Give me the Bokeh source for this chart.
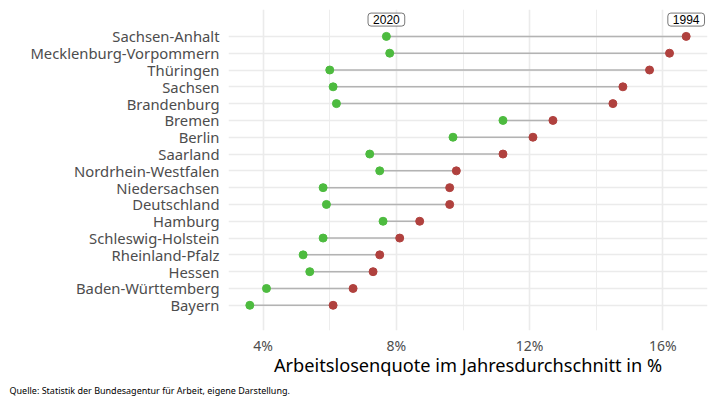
from bokeh.plotting import figure
from bokeh.models import Range1d, FixedTicker, Label, Title, ColumnDataSource
from bokeh.embed import file_html
from bokeh.resources import INLINE

regions = ["Sachsen-Anhalt", "Mecklenburg-Vorpommern", "Thüringen", "Sachsen", "Brandenburg",
           "Bremen", "Berlin", "Saarland", "Nordrhein-Westfalen", "Niedersachsen", "Deutschland",
           "Hamburg", "Schleswig-Holstein", "Rheinland-Pfalz", "Hessen", "Baden-Württemberg", "Bayern"]
rate_2020 = [7.7, 7.8, 6.0, 6.1, 6.2, 11.2, 9.7, 7.2, 7.5, 5.8, 5.9, 7.6, 5.8, 5.2, 5.4, 4.1, 3.6]
rate_1994 = [16.7, 16.2, 15.6, 14.8, 14.5, 12.7, 12.1, 11.2, 9.8, 9.6, 9.6, 8.7, 8.1, 7.5, 7.3, 6.7, 6.1]
x_ticks = [4, 8, 12, 16]
x_tick_labels = ["4%", "8%", "12%", "16%"]
year_labels = ["2020", "1994"]

FONT = "Noto Sans"
n = len(regions)
ypos = [n - i for i in range(n)]

src = ColumnDataSource(dict(y=ypos, a=rate_2020, b=rate_1994))

p = figure(width=716, height=402, output_backend="svg", toolbar_location=None,
           x_range=Range1d(2.96, 17.34), y_range=Range1d(-0.5, 18.6),
           min_border_left=228, min_border_right=9, min_border_top=9, min_border_bottom=72)
p.outline_line_color = None
p.background_fill_color = "white"

# grids
p.xgrid.ticker = FixedTicker(ticks=x_ticks, minor_ticks=[6, 10, 14])
p.xgrid.grid_line_color = "#ebebeb"
p.xgrid.grid_line_width = 1.6
p.xgrid.minor_grid_line_color = "#ebebeb"
p.xgrid.minor_grid_line_width = 0.9
p.ygrid.ticker = FixedTicker(ticks=ypos)
p.ygrid.grid_line_color = "#ebebeb"
p.ygrid.grid_line_width = 1.6

# axes
p.xaxis.ticker = FixedTicker(ticks=x_ticks)
p.xaxis.major_label_overrides = {t: l for t, l in zip(x_ticks, x_tick_labels)}
p.xaxis.axis_line_color = None
p.xaxis.major_tick_line_color = None
p.xaxis.minor_tick_line_color = None
p.xaxis.major_tick_out = 0
p.xaxis.major_tick_in = 0
p.xaxis.minor_tick_out = 0
p.xaxis.major_label_standoff = 5
p.xaxis.major_label_text_font = FONT
p.xaxis.major_label_text_font_size = "14px"
p.xaxis.major_label_text_color = "#4d4d4d"
p.xaxis.axis_label = "Arbeitslosenquote im Jahresdurchschnitt in %"
p.xaxis.axis_label_text_font = FONT
p.xaxis.axis_label_text_font_size = "18.2px"
p.xaxis.axis_label_text_font_style = "normal"
p.xaxis.axis_label_text_color = "black"
p.xaxis.axis_label_standoff = -5

p.yaxis.ticker = FixedTicker(ticks=ypos)
p.yaxis.major_label_overrides = {y: r for y, r in zip(ypos, regions)}
p.yaxis.axis_line_color = None
p.yaxis.major_tick_line_color = None
p.yaxis.minor_tick_line_color = None
p.yaxis.major_tick_out = 0
p.yaxis.major_tick_in = 0
p.yaxis.minor_tick_out = 0
p.yaxis.major_label_standoff = 9
p.yaxis.major_label_text_font = FONT
p.yaxis.major_label_text_font_size = "14.8px"
p.yaxis.major_label_text_color = "#4d4d4d"

# segments and points
p.segment(x0="a", y0="y", x1="b", y1="y", source=src, line_color="#b3b3b3", line_width=1.5)
p.scatter(x="a", y="y", source=src, size=8, fill_color="#4dbb3f", line_color="#4dbb3f")
p.scatter(x="b", y="y", source=src, size=8, fill_color="#b0413e", line_color="#b0413e")

# year labels
for xv, txt in zip([rate_2020[0], rate_1994[0]], year_labels):
    p.add_layout(Label(x=xv, y=n + 1, text=txt, text_align="center", text_baseline="middle",
                       text_font="Liberation Sans", text_font_size="12px", text_color="black",
                       background_fill_color="white", border_line_color="#555555", border_line_width=0.8,
                       padding=dict(left=5, right=5, top=2, bottom=2), border_radius=3))

cap = Title(text="Quelle: Statistik der Bundesagentur für Arbeit, eigene Darstellung.", align="left",
            text_font=FONT, text_font_size="9px", text_font_style="normal", text_color="black",
            offset=-219, standoff=4)
p.add_layout(cap, "below")

open("out.html", "w").write(file_html(p, INLINE))
